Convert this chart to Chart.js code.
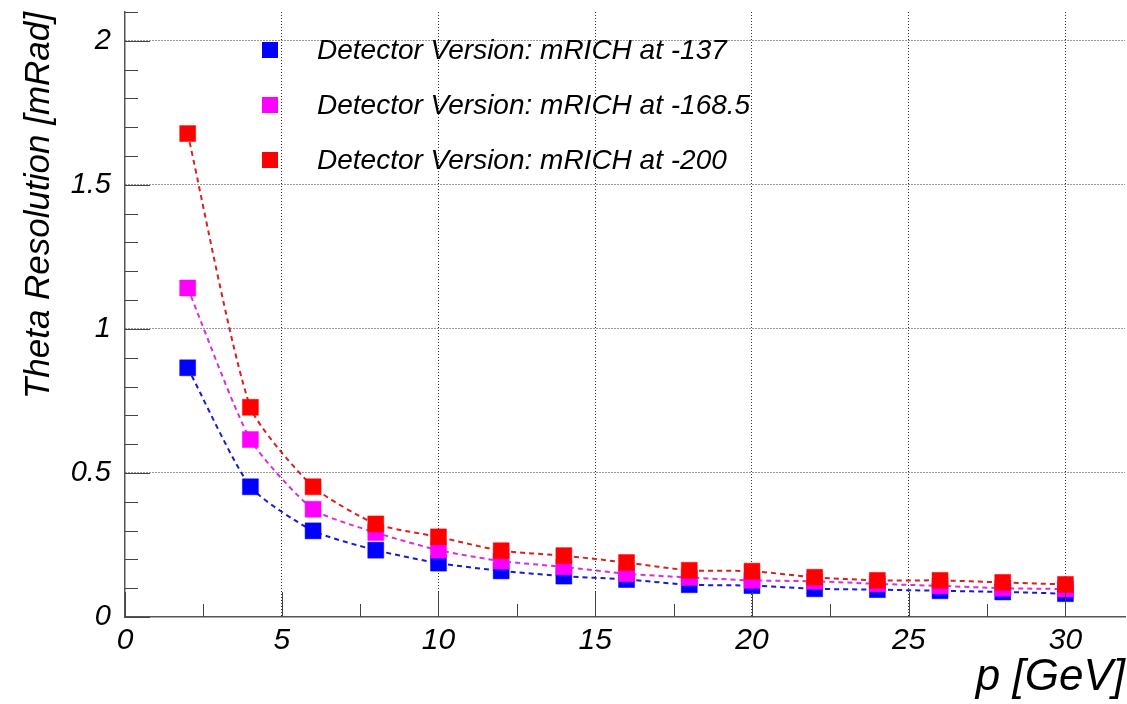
<!DOCTYPE html>
<html>
<head>
<meta charset="utf-8">
<script src="https://cdn.jsdelivr.net/npm/chart.js@4.4.1/dist/chart.umd.min.js"></script>
<style>
  body { margin: 0; background: #fff; }
  #wrap { position: relative; width: 1127px; height: 704px; }
  #legend { position: absolute; left: 0; top: 0; }
  .row { position: absolute; left: 262px; height: 28px; display: flex; align-items: center;
         font: italic 28px "Liberation Sans", Arial, sans-serif; color: #000; white-space: nowrap; }
  .box { width: 16px; height: 16px; margin-right: 39px; }
</style>
</head>
<body>
<div id="wrap">
  <canvas id="myChart" width="1127" height="704"></canvas>
  <div id="legend"></div>
</div>
<script>
// momentum points (GeV)
var momentum = [2, 4, 6, 8, 10, 12, 14, 16, 18, 20, 22, 24, 26, 28, 30];

// theta resolution (mRad) per detector position
var res137  = [0.865, 0.452, 0.299, 0.232, 0.187, 0.160, 0.142, 0.130, 0.112, 0.109, 0.098, 0.095, 0.091, 0.087, 0.081];
var res168  = [1.142, 0.616, 0.374, 0.293, 0.232, 0.194, 0.174, 0.150, 0.137, 0.127, 0.124, 0.115, 0.108, 0.100, 0.097];
var res200  = [1.678, 0.728, 0.452, 0.323, 0.278, 0.230, 0.213, 0.189, 0.162, 0.159, 0.138, 0.127, 0.127, 0.120, 0.113];

var labels = ["Detector Version: mRICH at -137", "Detector Version: mRICH at -168.5", "Detector Version: mRICH at -200"];
var markerColors = ["#0000ff", "#ff00ff", "#ff0000"];
var lineColors = ["#1a1ad0", "#d830d8", "#d82020"];

var xTicks = [0, 5, 10, 15, 20, 25, 30];
var yTicks = [0, 0.5, 1, 1.5, 2];

var axisFont = "'Liberation Sans', Arial, sans-serif";

function toPoints(ys) {
    return momentum.map(function(x, i) { return {x: x, y: ys[i]}; });
}

function makeSet(i, ys) {
    return {
        label: labels[i],
        data: toPoints(ys),
        borderColor: lineColors[i],
        borderWidth: 2,
        borderDash: [5, 4],
        tension: 0.2,
        pointStyle: "rect",
        pointRadius: 11.3,
        pointHoverRadius: 11.3,
        pointBackgroundColor: markerColors[i],
        pointBorderColor: markerColors[i],
        pointBorderWidth: 0.5,
        order: 3 - i
    };
}

// ticks drawn inside the frame, like ROOT does
var innerTicks = {
    id: "innerTicks",
    afterDraw: function(chart) {
        var ctx = chart.ctx, xs = chart.scales.x, ys = chart.scales.y, a = chart.chartArea;
        ctx.save();
        ctx.strokeStyle = "#444";
        ctx.lineWidth = 1;
        ctx.beginPath();
        for (var k = 0; k * 2.5 <= xs.max; k++) {
            var px = Math.round(xs.getPixelForValue(k * 2.5)) + 0.5;
            var len = (k % 2 == 0) ? 25 : 13;
            ctx.moveTo(px, a.bottom);
            ctx.lineTo(px, a.bottom - len);
        }
        for (var j = 0; j * 0.1 <= ys.max + 1e-9; j++) {
            var py = Math.round(ys.getPixelForValue(j * 0.1)) + 0.5;
            var l2 = (j % 5 == 0) ? 25 : 13;
            ctx.moveTo(a.left, py);
            ctx.lineTo(a.left + l2, py);
        }
        ctx.stroke();
        ctx.restore();
    }
};

function gridColor(c) {
    return (c.tick && c.tick.value > 0) ? "#333" : "rgba(0,0,0,0)";
}

var ctx = document.getElementById("myChart").getContext("2d");
var myChart = new Chart(ctx, {
    type: "line",
    data: {
        datasets: [makeSet(0, res137), makeSet(1, res168), makeSet(2, res200)]
    },
    options: {
        responsive: false,
        animation: false,
        layout: { autoPadding: false, padding: { top: 12, right: 2, left: 0, bottom: 0 } },
        plugins: { legend: { display: false }, tooltip: { enabled: false } },
        scales: {
            x: {
                type: "linear",
                min: 0,
                max: 31.9,
                afterBuildTicks: function(s) { s.ticks = xTicks.map(function(v) { return {value: v}; }); },
                afterFit: function(s) { s.height = 87; s.paddingLeft = 0; s.paddingRight = 0; },
                grid: { color: gridColor, lineWidth: 1, drawTicks: false },
                border: { color: "#555", width: 1.5, dash: [1, 2] },
                ticks: {
                    padding: 6,
                    color: "#000",
                    maxRotation: 0,
                    font: { family: axisFont, size: 30, style: "italic" },
                    callback: function(v) { return String(v); }
                },
                title: {
                    display: true,
                    text: "p [GeV]",
                    align: "end",
                    color: "#000",
                    padding: 0,
                    font: { family: axisFont, size: 44, style: "italic" }
                }
            },
            y: {
                min: 0,
                max: 2.1,
                afterBuildTicks: function(s) { s.ticks = yTicks.map(function(v) { return {value: v}; }); },
                afterFit: function(s) { s.width = 125; s.paddingTop = 0; s.paddingBottom = 0; },
                grid: { color: gridColor, lineWidth: 1, drawTicks: false },
                border: { color: "#555", width: 1.5, dash: [1, 2] },
                ticks: {
                    padding: 14,
                    color: "#000",
                    font: { family: axisFont, size: 29, style: "italic" },
                    callback: function(v) { return String(v); }
                },
                title: {
                    display: true,
                    text: "Theta Resolution [mRad]",
                    align: "end",
                    color: "#000",
                    padding: { top: 18, bottom: 0 },
                    font: { family: axisFont, size: 35, style: "italic" }
                }
            }
        }
    },
    plugins: [innerTicks]
});

// legend built from the same labels / colours
var rowCenters = [49.5, 104.5, 159.5];
var leg = document.getElementById("legend");
for (var i = 0; i < labels.length; i++) {
    var row = document.createElement("div");
    row.className = "row";
    row.style.top = (rowCenters[i] - 14) + "px";
    var box = document.createElement("span");
    box.className = "box";
    box.style.background = markerColors[i];
    row.appendChild(box);
    row.appendChild(document.createTextNode(labels[i]));
    leg.appendChild(row);
}
</script>
</body>
</html>
